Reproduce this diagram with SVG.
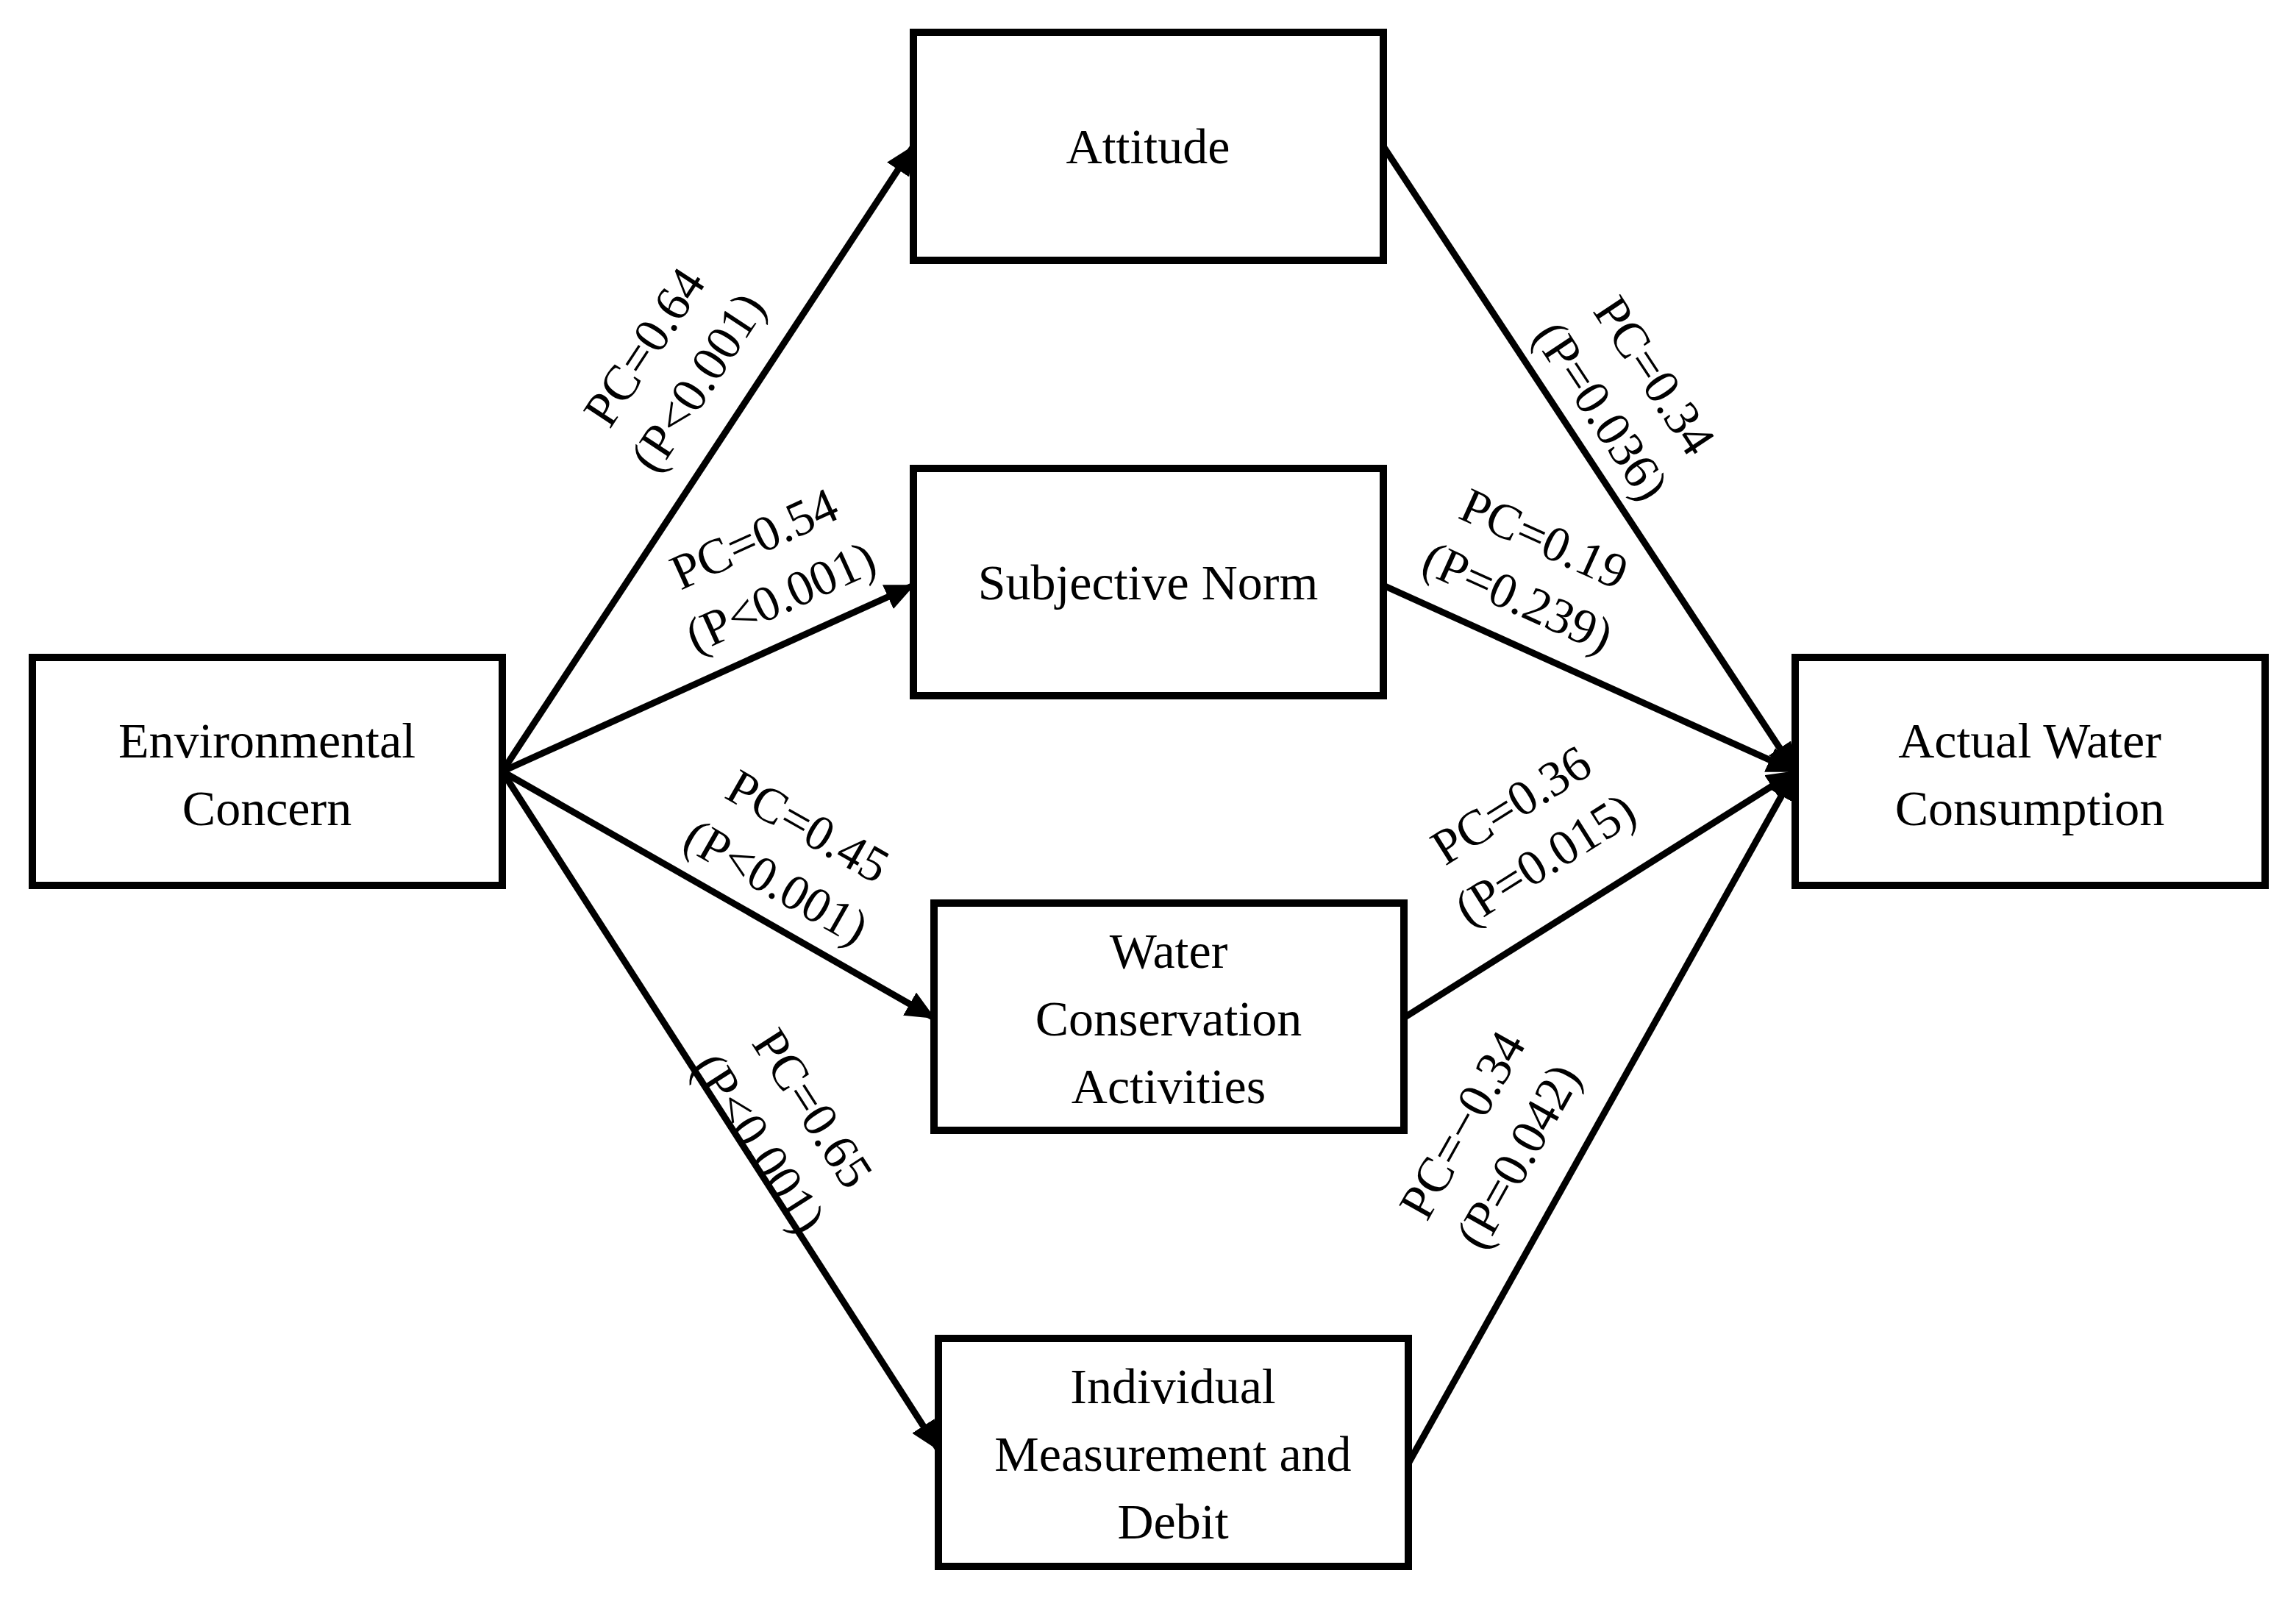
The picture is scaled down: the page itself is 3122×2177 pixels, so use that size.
<svg xmlns="http://www.w3.org/2000/svg" width="3122" height="2177" viewBox="0 0 3122 2177">
<style>
.b{fill:#fff;stroke:#000;stroke-width:10}
.t{font-family:"Liberation Serif",serif;font-size:68px;text-anchor:middle;fill:#000}
.c line{stroke:#000;stroke-width:9}
</style>
<defs><marker id="a" markerUnits="userSpaceOnUse" markerWidth="40" markerHeight="36" refX="38" refY="18" orient="auto"><path d="M0,0 L40,18 L0,36 Z"/></marker></defs>
<rect width="3122" height="2177" fill="#fff"/>
<g class="c">
<line x1="683" y1="1049" x2="1242" y2="199" marker-end="url(#a)"/>
<line x1="683" y1="1049" x2="1242" y2="796" marker-end="url(#a)"/>
<line x1="683" y1="1049" x2="1270" y2="1384" marker-end="url(#a)"/>
<line x1="683" y1="1049" x2="1276" y2="1971" marker-end="url(#a)"/>
<line x1="1881" y1="199" x2="2441" y2="1049" marker-end="url(#a)"/>
<line x1="1881" y1="796" x2="2441" y2="1049" marker-end="url(#a)"/>
<line x1="1909" y1="1384" x2="2441" y2="1049" marker-end="url(#a)"/>
<line x1="1915" y1="1990" x2="2441" y2="1049" marker-end="url(#a)"/>
</g>
<g id="ec"><rect class="b" x="44" y="894" width="639" height="310"/><text class="t" x="363" y="1030">Environmental</text><text class="t" x="363" y="1122">Concern</text></g>
<g id="att"><rect class="b" x="1242" y="44" width="639" height="310"/><text class="t" x="1561" y="222">Attitude</text></g>
<g id="sn"><rect class="b" x="1242" y="637" width="639" height="309"/><text class="t" x="1561" y="815">Subjective Norm</text></g>
<g id="wc"><rect class="b" x="1270" y="1228" width="639" height="309"/><text class="t" x="1589" y="1316">Water</text><text class="t" x="1589" y="1408">Conservation</text><text class="t" x="1589" y="1500">Activities</text></g>
<g id="imd"><rect class="b" x="1276" y="1820" width="639" height="310"/><text class="t" x="1595" y="1908">Individual</text><text class="t" x="1595" y="2000">Measurement and</text><text class="t" x="1595" y="2092">Debit</text></g>
<g id="awc"><rect class="b" x="2441" y="894" width="639" height="310"/><text class="t" x="2760" y="1030">Actual Water</text><text class="t" x="2760" y="1122">Consumption</text></g>
<g id="labels">
<g transform="translate(916,498) rotate(-56.7)"><text class="t" y="-25">PC=0.64</text><text class="t" y="62">(P&lt;0.001)</text></g>
<g transform="translate(1045,776) rotate(-24.4)"><text class="t" y="-25">PC=0.54</text><text class="t" y="62">(P&lt;0.001)</text></g>
<g transform="translate(1075,1165) rotate(29.7)"><text class="t" y="-25">PC=0.45</text><text class="t" y="62">(P&lt;0.001)</text></g>
<g transform="translate(1065,1533) rotate(57.3)"><text class="t" y="-25">PC=0.65</text><text class="t" y="62">(P&lt;0.001)</text></g>
<g transform="translate(2210,537) rotate(56.6)"><text class="t" y="-25">PC=0.34</text><text class="t" y="62">(P=0.036)</text></g>
<g transform="translate(2080,776) rotate(24.3)"><text class="t" y="-25">PC=0.19</text><text class="t" y="62">(P=0.239)</text></g>
<g transform="translate(2080,1135) rotate(-32.2)"><text class="t" y="-25">PC=0.36</text><text class="t" y="62">(P=0.015)</text></g>
<g transform="translate(2030,1553) rotate(-60.8)"><text class="t" y="-25">PC=−0.34</text><text class="t" y="62">(P=0.042)</text></g>
</g>
</svg>
